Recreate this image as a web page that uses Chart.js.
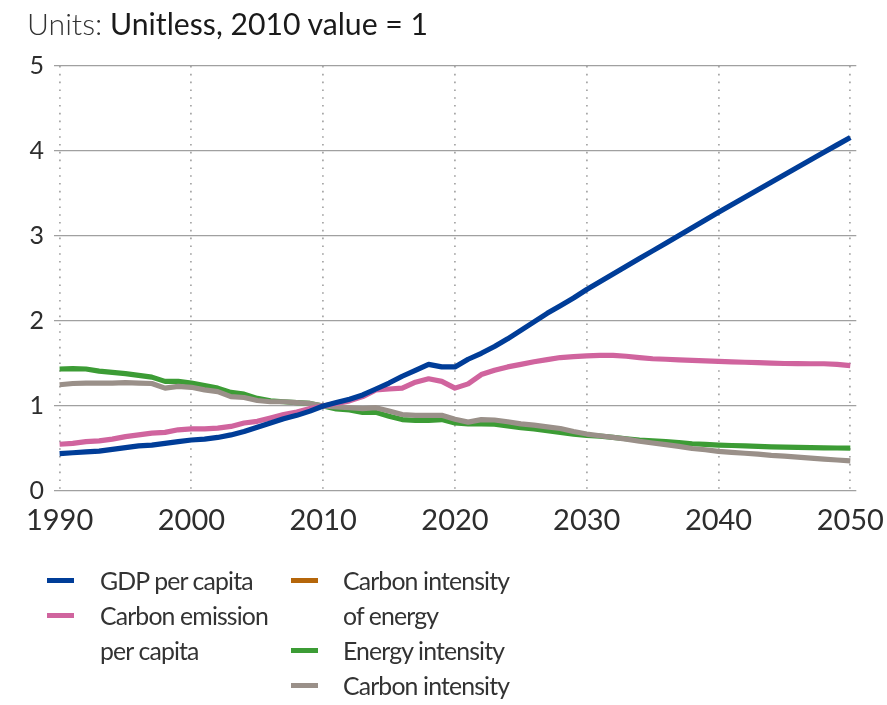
<!DOCTYPE html>
<html><head><meta charset="utf-8">
<script src="https://cdn.jsdelivr.net/npm/chart.js@4.4.1/dist/chart.umd.min.js"></script>
<style>
html,body{margin:0;padding:0;background:#fff;}
#wrap{position:relative;width:887px;height:705px;overflow:hidden;font-family:Lato, "Open Sans", sans-serif;color:#2d2d2d;}
#c{position:absolute;left:0;top:0;}
#title{position:absolute;left:27px;top:3.5px;font-size:30.2px;line-height:38px;white-space:nowrap;}
#title .u{font-weight:300;color:#333;}
#title .v{font-weight:400;color:#1a1a1a;}
.col{position:absolute;top:563px;font-size:24.8px;line-height:35px;color:#333;letter-spacing:-0.85px;}
.item{position:relative;}
.sw{position:absolute;left:0;top:15px;width:27px;height:5px;}
.tx{display:block;width:180px;}
</style>
</head>
<body>
<div id="wrap">
<canvas id="c" width="887" height="705"></canvas>
<div id="title"><span class="u">Units:</span> <span class="v">Unitless, 2010 value = 1</span></div>
<div class="col" id="col1" style="left:47px;"></div>
<div class="col" id="col2" style="left:291px;"></div>
</div>
<script>
const years = [];
for (let y = 1990; y <= 2050; y++) years.push(y);

const seriesNames = ["GDP per capita", "Carbon emission per capita", "Carbon intensity of energy", "Energy intensity", "Carbon intensity"];

const gdpPerCapita = [
  0.44,0.45,0.46,0.47,0.49,0.51,0.53,0.54,0.56,0.58,
  0.60,0.61,0.63,0.66,0.70,0.75,0.80,0.85,0.89,0.94,
  1.00,1.04,1.08,1.13,1.20,1.27,1.35,1.42,1.49,1.46,
  1.46,1.55,1.62,1.70,1.79,1.89,1.99,2.09,2.18,2.27,
  2.37,2.461,2.552,2.643,2.734,2.825,2.916,3.007,3.098,3.189,
  3.28,3.368,3.456,3.544,3.632,3.72,3.808,3.896,3.984,4.072,
  4.16];

const carbonEmissionPerCapita = [
  0.55,0.56,0.58,0.59,0.61,0.64,0.66,0.68,0.69,0.72,
  0.73,0.73,0.74,0.76,0.80,0.82,0.86,0.90,0.93,0.97,
  1.00,1.03,1.06,1.11,1.19,1.20,1.21,1.28,1.32,1.29,
  1.21,1.26,1.37,1.42,1.46,1.49,1.52,1.545,1.57,1.58,
  1.59,1.595,1.595,1.585,1.57,1.556,1.55,1.543,1.537,1.53,
  1.525,1.52,1.515,1.51,1.505,1.50,1.498,1.497,1.497,1.49,
  1.474];

const carbonIntensityOfEnergy = [];

const energyIntensity = [
  1.435,1.44,1.435,1.41,1.395,1.38,1.36,1.34,1.29,1.29,
  1.27,1.24,1.21,1.16,1.14,1.09,1.06,1.05,1.04,1.03,
  1.00,0.965,0.955,0.925,0.925,0.88,0.84,0.83,0.83,0.84,
  0.80,0.79,0.79,0.785,0.765,0.745,0.73,0.71,0.69,0.67,
  0.655,0.645,0.63,0.615,0.60,0.59,0.58,0.57,0.556,0.548,
  0.54,0.535,0.53,0.525,0.52,0.517,0.513,0.51,0.508,0.506,
  0.505];

const carbonIntensity = [
  1.25,1.265,1.27,1.27,1.27,1.275,1.27,1.265,1.21,1.23,
  1.22,1.19,1.17,1.11,1.10,1.065,1.05,1.05,1.04,1.03,
  1.00,0.99,0.98,0.97,0.98,0.94,0.90,0.89,0.89,0.89,
  0.845,0.81,0.84,0.835,0.815,0.79,0.775,0.755,0.735,0.70,
  0.67,0.65,0.63,0.61,0.585,0.565,0.545,0.525,0.50,0.485,
  0.466,0.455,0.444,0.434,0.42,0.41,0.398,0.387,0.376,0.365,
  0.355];

const yTicks = [0,1,2,3,4,5];
const xTicks = [1990,2000,2010,2020,2030,2040,2050];

const colors = ["#003d98", "#d0649e", "#b5660a", "#3c9c35", "#9a9089"];
const values = [gdpPerCapita, carbonEmissionPerCapita, carbonIntensityOfEnergy, energyIntensity, carbonIntensity];
const drawOrder = [1, 2, 5, 4, 3];

const datasets = seriesNames.map((name, i) => ({
  label: name,
  data: values[i].map((v, k) => ({x: years[k], y: v})),
  borderColor: colors[i],
  backgroundColor: colors[i],
  borderWidth: 5.2,
  pointRadius: 0,
  tension: 0,
  fill: false,
  order: drawOrder[i],
  borderJoinStyle: 'round'
}));

const plotLeft = 53.6, plotRight = 856.3, plotTop = 66, plotBottom = 491;

new Chart(document.getElementById('c'), {
  type: 'line',
  data: { datasets },
  options: {
    responsive: false,
    animation: false,
    devicePixelRatio: 1,
    layout: { padding: { left: 0, right: 887 - plotRight, top: plotTop, bottom: 0 } },
    plugins: { legend: { display: false }, tooltip: { enabled: false } },
    scales: {
      x: {
        type: 'linear',
        min: 1989.545,
        max: 2050.455,
        ticks: {
          stepSize: 10,
          padding: 12,
          color: '#2d2d2d',
          font: { family: 'Lato', size: 29 },
          maxRotation: 0,
          autoSkip: false,
          callback: v => String(v)
        },
        afterBuildTicks: s => { s.ticks = xTicks.map(v => ({value: v})); },
        afterFit: s => { s.height = 705 - plotBottom; s.paddingLeft = 0; s.paddingRight = 0; },
        grid: { color: '#a8a8a8', lineWidth: 1.8, drawTicks: false },
        border: { display: false, dash: [1.6, 6.2] }
      },
      y: {
        min: 0, max: 5,
        ticks: {
          stepSize: 1,
          padding: 9.6,
          color: '#2d2d2d',
          font: { family: 'Lato', size: 25 },
          callback: v => String(v)
        },
        afterBuildTicks: s => { s.ticks = yTicks.map(v => ({value: v})); },
        afterFit: s => { s.width = plotLeft; s.paddingTop = 0; s.paddingBottom = 0; },
        grid: { color: '#a0a0a0', lineWidth: 1.2, drawTicks: false },
        border: { display: false }
      }
    }
  }
});

// HTML legend built from the dataset labels/colours
const colItems = [[0, 1], [2, 3, 4]];
['col1', 'col2'].forEach((id, c) => {
  const el = document.getElementById(id);
  colItems[c].forEach(i => {
    const it = document.createElement('div');
    it.className = 'item';
    it.style.paddingLeft = (c === 0 ? 53 : 52) + 'px';
    const sw = document.createElement('span');
    sw.className = 'sw';
    sw.style.background = colors[i];
    const tx = document.createElement('span');
    tx.className = 'tx';
    tx.textContent = seriesNames[i];
    it.appendChild(sw); it.appendChild(tx);
    el.appendChild(it);
  });
});
</script>
</body></html>
